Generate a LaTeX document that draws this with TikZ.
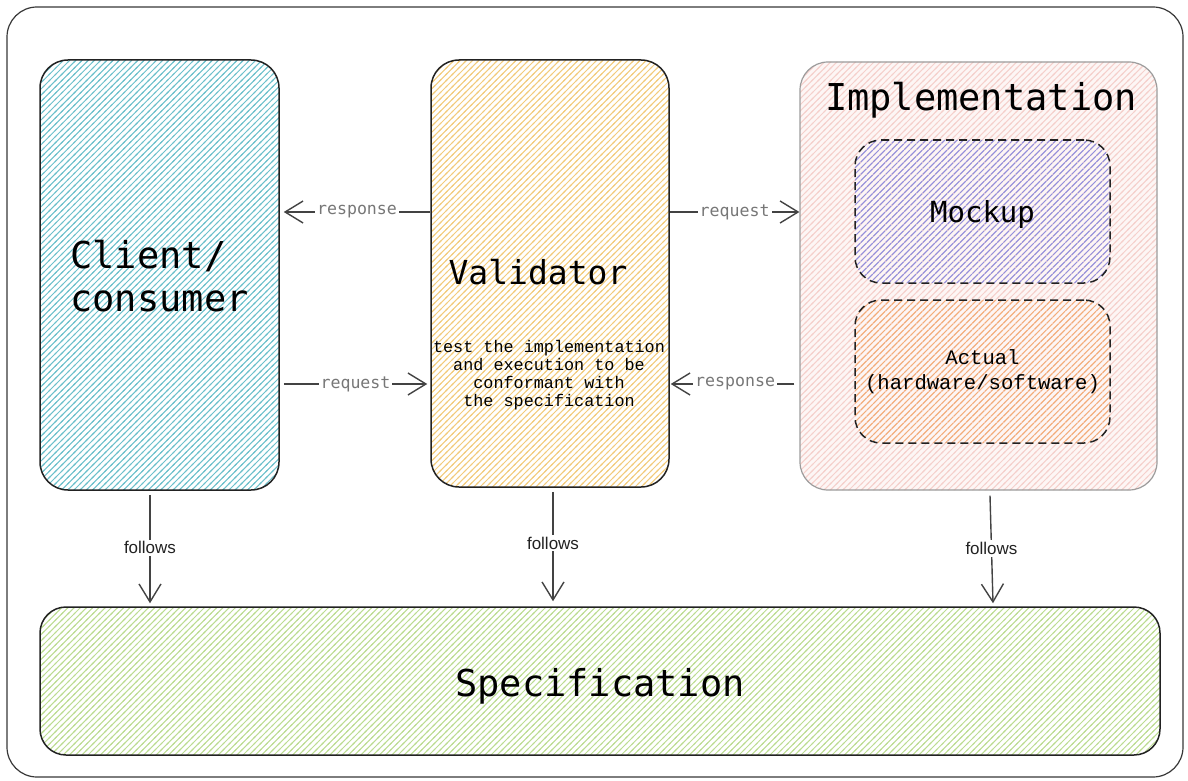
\documentclass[tikz,border=0pt]{standalone}
\usepackage{fontspec}
\usetikzlibrary{patterns,arrows.meta}
\newfontfamily\codefont{DejaVu Sans Mono}
\newfontfamily\typefont{Liberation Mono}
\newfontfamily\labelfont{Liberation Sans}
% diagonal hatching rising to the right, fixed to the page
\pgfdeclarepatternformonly{hatchrise}{\pgfqpoint{-1pt}{-1pt}}{\pgfqpoint{4pt}{4pt}}{\pgfqpoint{3.1pt}{3.1pt}}{
  \pgfsetlinewidth{0.5pt}
  \pgfpathmoveto{\pgfqpoint{-0.5pt}{-0.5pt}}
  \pgfpathlineto{\pgfqpoint{3.6pt}{3.6pt}}
  \pgfusepath{stroke}}
\definecolor{clientc}{HTML}{6CC0CB}
\definecolor{validc}{HTML}{F2CB7C}
\definecolor{implc}{HTML}{F5D0CC}
\definecolor{implbg}{HTML}{FDF6F5}
\definecolor{mockc}{HTML}{9090E0}
\definecolor{actc}{HTML}{F4AE78}
\definecolor{specc}{HTML}{BCDC92}
\definecolor{edge}{HTML}{222222}
\definecolor{conntext}{HTML}{777777}
\begin{document}
\begin{tikzpicture}[x=0.5pt,y=-0.5pt,
  hatch/.style={pattern=hatchrise,pattern color=#1},
  panel/.style={draw=edge,line width=0.75pt,rounded corners=14pt,inner sep=0pt},
  dashpanel/.style={draw=edge,line width=0.75pt,dash pattern=on 4pt off 2.5pt,rounded corners=13pt,inner sep=0pt},
  conn/.style={draw=edge!85,line width=0.7pt,-{Straight Barb[length=9pt,width=11pt,line width=0.7pt]}},
  connlabel/.style={fill=white,inner sep=1pt,text=conntext,font=\codefont\fontsize{8.3}{10}\selectfont},
  followlabel/.style={fill=white,inner sep=1pt,text=edge,font=\labelfont\fontsize{8.5}{10}\selectfont},
  bigtext/.style={font=\codefont\fontsize{18.5}{21.5}\selectfont}]
  \useasboundingbox (0,0) rectangle (1188,781);
  % outer frame
  \draw[draw=edge!90,line width=0.6pt,rounded corners=15pt] (7,7) rectangle (1183,777);

  % main panels
  \node[panel,hatch=clientc,minimum width=119.5pt,minimum height=215pt] (client) at (159.5,275) {};
  \node[bigtext,align=left,anchor=west,inner sep=0pt] (clientlbl) at (70,276) {Client/\\consumer};

  \node[panel,hatch=validc,minimum width=119pt,minimum height=213.5pt] (validator) at (550,273.5) {};
  \node[font=\codefont\fontsize{16.5}{20}\selectfont] (validlbl) at (538,272) {Validator};
  \node[align=center,font=\typefont\fontsize{8.4}{9}\selectfont] (validdesc) at (549,375)
    {test the implementation\\and execution to be\\conformant with\\the specification};

  \node[panel,draw=edge!45,line width=0.6pt,hatch=implc,preaction={fill=implbg},
        minimum width=178.5pt,minimum height=214pt] (impl) at (978.5,276) {};
  \node[bigtext] (impllbl) at (981,100) {Implementation};
  \node[dashpanel,hatch=mockc,minimum width=127.5pt,minimum height=71.5pt] (mockup) at (982.5,211.5) {};
  \node[font=\codefont\fontsize{14.5}{17}\selectfont] (mocklbl) at (982.5,214) {Mockup};
  \node[dashpanel,hatch=actc,minimum width=127.5pt,minimum height=71.5pt] (actual) at (982.5,371.5) {};
  \node[align=center,font=\typefont\fontsize{10.3}{12.5}\selectfont] (actlbl) at (982.5,372) {Actual\\(hardware/software)};

  \node[panel,rounded corners=13pt,hatch=specc,minimum width=560pt,minimum height=74pt] (spec) at (600,681) {};
  \node[bigtext] (speclbl) at (600,686) {Specification};

  % rows of the request/response connectors
  \coordinate (rowA) at (0,212);
  \coordinate (rowB) at (0,384);

  \draw[conn] (validator.west |- rowA) -- ([xshift=2pt]client.east |- rowA)
    node[connlabel,pos=0.5] {response};
  \draw[conn] (validator.east |- rowA) -- (impl.west |- rowA)
    node[connlabel,pos=0.5] {request};
  \draw[conn] ([xshift=2pt]client.east |- rowB) -- ([xshift=-1.5pt]validator.west |- rowB)
    node[connlabel,pos=0.5] {request};
  \draw[conn] ([xshift=-2.5pt]impl.west |- rowB) -- ([xshift=0.5pt]validator.east |- rowB)
    node[connlabel,pos=0.48] {response};

  % follows connectors
  \draw[conn] ([shift={(-4.75pt,-2pt)}]client.south) -- ([shift={(-4.75pt,1.5pt)}]client.south |- spec.north)
    node[followlabel,pos=0.49] {follows};
  \draw[conn] ([shift={(1.5pt,-2pt)}]validator.south) -- ([shift={(1.5pt,2.5pt)}]validator.south |- spec.north)
    node[followlabel,pos=0.47] {follows};
  \draw[conn] ([shift={(5.75pt,-2.5pt)}]impl.south) -- ([shift={(7.25pt,1.5pt)}]impl.south |- spec.north)
    node[followlabel,pos=0.49] {follows};
\end{tikzpicture}
\end{document}
